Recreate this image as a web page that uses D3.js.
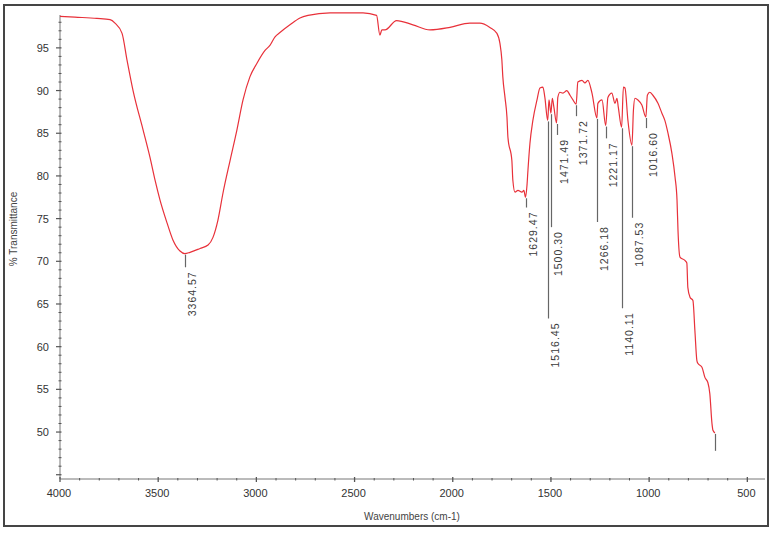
<!DOCTYPE html>
<html>
<head>
<meta charset="utf-8">
<script src="https://cdn.jsdelivr.net/npm/d3@7"></script>
<style>
  body { margin: 0; background: #fff; }
  .tick-label { font-family: "Liberation Sans Narrow", "Liberation Sans", Arial, sans-serif; font-size: 11px; fill: #333; }
  .axis-title { font-family: "Liberation Sans", Arial, sans-serif; font-size: 10px; fill: #444; }
  .peak-label { font-family: "Liberation Sans", Arial, sans-serif; font-size: 10.5px; fill: #3a3a3a; letter-spacing: 1px; }
</style>
</head>
<body>
<script>
//spectrum (wavenumber cm-1, % transmittance)
var wavenumbers = [4000, 3924, 3812, 3745, 3720, 3684, 3659, 3628, 3577, 3542, 3516, 3491, 3455, 3425, 3389, 3364.57,
  3338, 3287, 3246, 3221, 3196, 3170, 3134, 3099, 3068, 3033, 2997, 2956, 2931, 2905, 2880, 2829, 2778, 2737,
  2625, 2457, 2388, 2371, 2361, 2345, 2286, 2203, 2116, 2014, 1913, 1862, 1811, 1775, 1760, 1750, 1745, 1734,
  1724, 1719, 1699, 1694, 1683, 1668, 1648, 1638, 1629.47, 1622, 1617, 1607, 1592, 1571, 1556, 1541, 1531,
  1516.45, 1510, 1500.30, 1493, 1485, 1471.49, 1465, 1454, 1439, 1419, 1403, 1388, 1371.72, 1363, 1342, 1327,
  1312, 1291, 1266.18, 1261, 1240, 1221.17, 1210, 1190, 1174, 1164, 1157, 1140.11, 1131, 1123, 1108, 1087.53,
  1080, 1072, 1057, 1037, 1016.60, 1009, 997, 981, 955, 935, 920, 904, 884, 868, 858, 853, 843, 818, 808, 803,
  792, 777, 767, 757, 752, 731, 716, 701, 691, 680, 675, 665];
var transmittance = [98.7, 98.6, 98.45, 98.3, 97.9, 96.7, 93.6, 90.0, 85.4, 82.2, 79.5, 77.2, 74.5, 72.5, 71.2, 70.9,
  71.05, 71.5, 71.9, 72.8, 74.8, 78.0, 81.8, 85.4, 88.9, 91.6, 93.2, 94.7, 95.3, 96.3, 96.8, 97.7, 98.5, 98.8,
  99.1, 99.1, 98.8, 96.5, 97.1, 97.1, 98.2, 97.7, 97.1, 97.4, 97.9, 97.9, 97.4, 96.7, 95.55, 93.6, 91.6, 89.2,
  86.9, 84.5, 81.8, 79.5, 78.1, 78.3, 78.1, 78.3, 77.5, 78.9, 80.7, 83.8, 86.5, 88.9, 90.3, 90.4, 89.2,
  86.5, 88.9, 87.35, 89.1, 88.05, 86.2, 89.2, 89.8, 89.7, 90.0, 89.45, 88.9, 88.4, 91.0, 91.2, 90.9,
  91.2, 89.7, 86.8, 88.5, 88.9, 85.9, 89.2, 89.7, 88.5, 89.1, 88.05, 85.7, 90.4, 90.3, 86.5, 83.6,
  87.7, 89.1, 88.9, 88.3, 86.9, 89.45, 89.8, 89.45, 88.5, 87.35, 86.5, 85.0, 82.65, 79.85, 77.15, 73.6, 70.5, 70.1, 69.8, 66.95,
  65.8, 65.4, 61.9, 58.4, 58.05, 57.6, 56.4, 55.8, 54.5, 51.0, 50.2, 49.9];

//peak picks
var peakWavenumbers = [3364.57, 1629.47, 1516.45, 1500.30, 1471.49, 1371.72, 1266.18, 1221.17, 1140.11, 1087.53, 1016.60, 665];
var peakLabels = ["3364.57", "1629.47", "1516.45", "1500.30", "1471.49", "1371.72", "1266.18", "1221.17", "1140.11", "1087.53", "1016.60", ""];
//%T level where each pick line stops
var peakLineEnds = [69.3, 76.3, 63.3, 74.0, 84.8, 87.0, 74.6, 84.4, 64.5, 75.1, 85.6, 47.8];

var xTicks = [4000, 3500, 3000, 2500, 2000, 1500, 1000, 500];
var yTicks = [50, 55, 60, 65, 70, 75, 80, 85, 90, 95];

var width = 773,
    height = 534;

var svg = d3.select("body")
    .append("svg")
    .attr("width", width)
    .attr("height", height);

//outer frame
svg.append("rect")
    .attr("x", 4).attr("y", 5)
    .attr("width", 764).attr("height", 521)
    .attr("fill", "#fff")
    .attr("stroke", "#454545")
    .attr("stroke-width", 2);

var x = d3.scaleLinear()
    .domain([4000, 410])
    .range([60, 765]);

var y = d3.scaleLinear()
    .domain([44.5, 98.85])
    .range([479, 15]);

//axes lines
svg.append("line")
    .attr("x1", x(4000)).attr("x2", x(4000))
    .attr("y1", y(98.85)).attr("y2", y(44.5))
    .attr("stroke", "#777");
svg.append("line")
    .attr("x1", x(4000)).attr("x2", x(410))
    .attr("y1", y(44.5)).attr("y2", y(44.5))
    .attr("stroke", "#777");

//y ticks, minor every 1 %T
svg.selectAll(".yminor")
    .data(d3.range(45, 99))
    .enter()
    .append("line")
    .attr("class", "yminor")
    .attr("x1", function(d){ return d % 5 === 0 ? 56 : 58.5; })
    .attr("x2", 61.5)
    .attr("y1", function(d){ return y(d); })
    .attr("y2", function(d){ return y(d); })
    .attr("stroke", "#555")
    .attr("stroke-width", function(d){ return d % 5 === 0 ? 1.2 : 1; });

svg.selectAll(".ylabel")
    .data(yTicks)
    .enter()
    .append("text")
    .attr("class", "tick-label")
    .attr("x", 49)
    .attr("y", function(d){ return y(d) + 4; })
    .attr("text-anchor", "end")
    .text(function(d){ return d; });

//x ticks, minor every 100 cm-1
svg.selectAll(".xminor")
    .data(d3.range(4000, 409, -100))
    .enter()
    .append("line")
    .attr("class", "xminor")
    .attr("x1", function(d){ return x(d); })
    .attr("x2", function(d){ return x(d); })
    .attr("y1", function(d){ return d % 500 === 0 ? y(44.5) - 2 : y(44.5) - 1; })
    .attr("y2", function(d){ return d % 500 === 0 ? y(44.5) + 3 : y(44.5) + 1.5; })
    .attr("stroke", "#555")
    .attr("stroke-width", function(d){ return d % 500 === 0 ? 1.3 : 1; });

svg.selectAll(".xlabel")
    .data(xTicks)
    .enter()
    .append("text")
    .attr("class", "tick-label")
    .attr("x", function(d){ return x(d) - 1; })
    .attr("y", y(44.5) + 18)
    .attr("text-anchor", "middle")
    .text(function(d){ return d; });

//axis titles
svg.append("text")
    .attr("class", "axis-title")
    .attr("x", 412)
    .attr("y", 520)
    .attr("text-anchor", "middle")
    .text("Wavenumbers (cm-1)");

svg.append("text")
    .attr("class", "axis-title")
    .attr("transform", "translate(17,229) rotate(-90)")
    .attr("text-anchor", "middle")
    .text("% Transmittance");

//spectrum
var spectrum = wavenumbers.map(function(w, i){ return [w, transmittance[i]]; });

var line = d3.line()
    .x(function(d){ return x(d[0]); })
    .y(function(d){ return y(d[1]); })
    .curve(d3.curveMonotoneX);

svg.append("path")
    .datum(spectrum)
    .attr("d", line)
    .attr("fill", "none")
    .attr("stroke", "#e8313a")
    .attr("stroke-width", 1.2)
    .attr("stroke-linejoin", "round");

//peak pick lines and labels
function valueAt(w){
    var i = d3.minIndex(wavenumbers, function(v){ return Math.abs(v - w); });
    return transmittance[i];
}

peakWavenumbers.forEach(function(w, i){
    var px = Math.round(x(w)) + 0.5;
    svg.append("line")
        .attr("x1", px).attr("x2", px)
        .attr("y1", y(valueAt(w)) + 1)
        .attr("y2", y(peakLineEnds[i]))
        .attr("stroke", "#666")
        .attr("stroke-width", 1.2);
    if (peakLabels[i]) {
        svg.append("text")
            .attr("class", "peak-label")
            .attr("transform", "translate(" + (px + 10) + "," + (y(peakLineEnds[i]) + 4) + ") rotate(-90)")
            .attr("text-anchor", "end")
            .text(peakLabels[i]);
    }
});
</script>
</body>
</html>
